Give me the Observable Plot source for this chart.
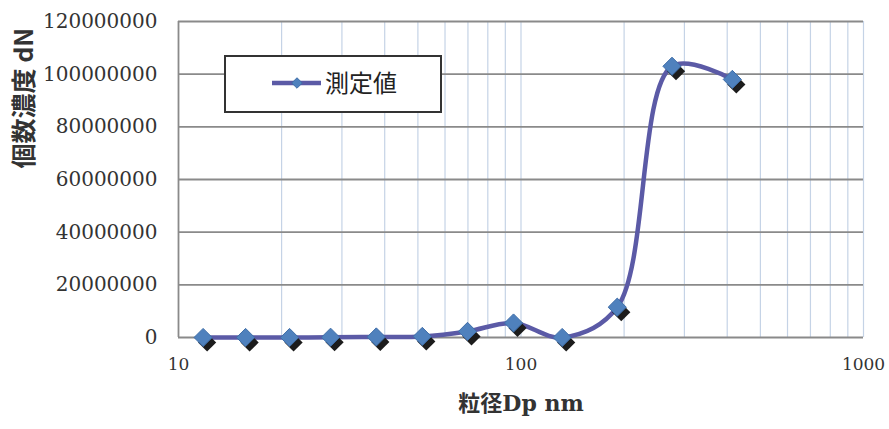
<!DOCTYPE html>
<html>
<head>
<meta charset="utf-8">
<script src="https://cdn.jsdelivr.net/npm/d3@7"></script>
<script src="https://cdn.jsdelivr.net/npm/@observablehq/plot@0.6"></script>
<style>
  html, body { margin: 0; padding: 0; background: #fff; overflow: hidden; }
  #wrap { position: relative; width: 889px; height: 429px; }
  #legend {
    position: absolute; left: 224px; top: 55px; width: 214px; height: 54px;
    border: 2px solid #333; background: #fff; box-sizing: content-box;
  }
  #legend svg { position: absolute; left: 0; top: 0; }
</style>
</head>
<body>
<div id="wrap"></div>
<script>
// Data
const seriesName = "測定値";
const particleSizes = [11.8, 15.7, 21.1, 27.8, 37.8, 51.5, 69.8, 95.1, 131.9, 191, 276, 414];
const concentrations = [0, 0, 0, 100000, 200000, 400000, 2300000, 5500000, 0, 11500000, 103000000, 98000000];
const xTicks = [10, 100, 1000];
const xGrid = [20, 30, 40, 50, 60, 70, 80, 90, 100, 200, 300, 400, 500, 600, 700, 800, 900, 1000];
const yTicks = [0, 20000000, 40000000, 60000000, 80000000, 100000000, 120000000];
const xLabel = "粒径Dp nm";
const yLabel = "個数濃度 dN";

const data = particleSizes.map((s, i) => ({size: s, dN: concentrations[i]}));

const lineColor = "#5b5aa6";
const markerFill = "#4f81bd";

const chart = Plot.plot({
  width: 889,
  height: 429,
  marginLeft: 178,
  marginRight: 26,
  marginTop: 21,
  marginBottom: 92,
  x: {type: "log", domain: [10, 1000]},
  y: {domain: [0, 120000000]},
  style: {background: "#fff", fontFamily: "'DejaVu Serif', serif"},
  marks: [
    Plot.ruleX(xGrid, {stroke: "#c5d3e6", strokeWidth: 1.2}),
    Plot.ruleY(yTicks, {stroke: "#8a8a8a", strokeWidth: 1.8}),
    Plot.ruleX([10], {stroke: "#8a8a8a", strokeWidth: 1.8}),
    Plot.axisX(xTicks, {tickSize: 0, tickPadding: 20, fontSize: 17, color: "#333", tickFormat: d => String(d), label: null}),
    Plot.axisY(yTicks, {tickSize: 0, tickPadding: 21, fontSize: 20, color: "#333", tickFormat: d => String(d), label: null}),
    Plot.line(data, {x: "size", y: "dN", curve: "catmull-rom", stroke: lineColor, strokeWidth: 4.5}),
    Plot.dot(data, {x: "size", y: "dN", symbol: "diamond2", r: 8.2, fill: "#1c1c1c", dx: 4, dy: 5}),
    Plot.dot(data, {x: "size", y: "dN", symbol: "diamond2", r: 8.2, fill: markerFill, stroke: "#3f6ea8", strokeWidth: 1}),
    Plot.text([yLabel], {frameAnchor: "left", dx: -154, dy: -11, rotate: -90, fontSize: 25, fontWeight: "bold", fontFamily: "'Noto Sans CJK JP', sans-serif", fill: "#333"}),
    Plot.text([xLabel], {frameAnchor: "bottom", dy: 73, fontSize: 22, fontWeight: "bold", fontFamily: "'DejaVu Serif', 'Noto Sans CJK JP', serif", fill: "#333"})
  ]
});

const wrap = document.getElementById("wrap");
wrap.appendChild(chart);

// Legend overlay
const legend = document.createElement("div");
legend.id = "legend";
wrap.appendChild(legend);
const lsvg = d3.select(legend).append("svg").attr("width", 214).attr("height", 54);
lsvg.append("line").attr("x1", 46).attr("x2", 95).attr("y1", 26).attr("y2", 26)
  .attr("stroke", lineColor).attr("stroke-width", 4.5);
lsvg.append("path").attr("d", d3.symbol(d3.symbolDiamond2, 70)()).attr("transform", "translate(71,26)")
  .attr("fill", markerFill).attr("stroke", "#3f6ea8");
lsvg.append("text").attr("x", 99).attr("y", 35).text(seriesName)
  .attr("font-family", "'Noto Sans CJK JP', sans-serif").attr("font-size", 24).attr("fill", "#222");
</script>
</body>
</html>
